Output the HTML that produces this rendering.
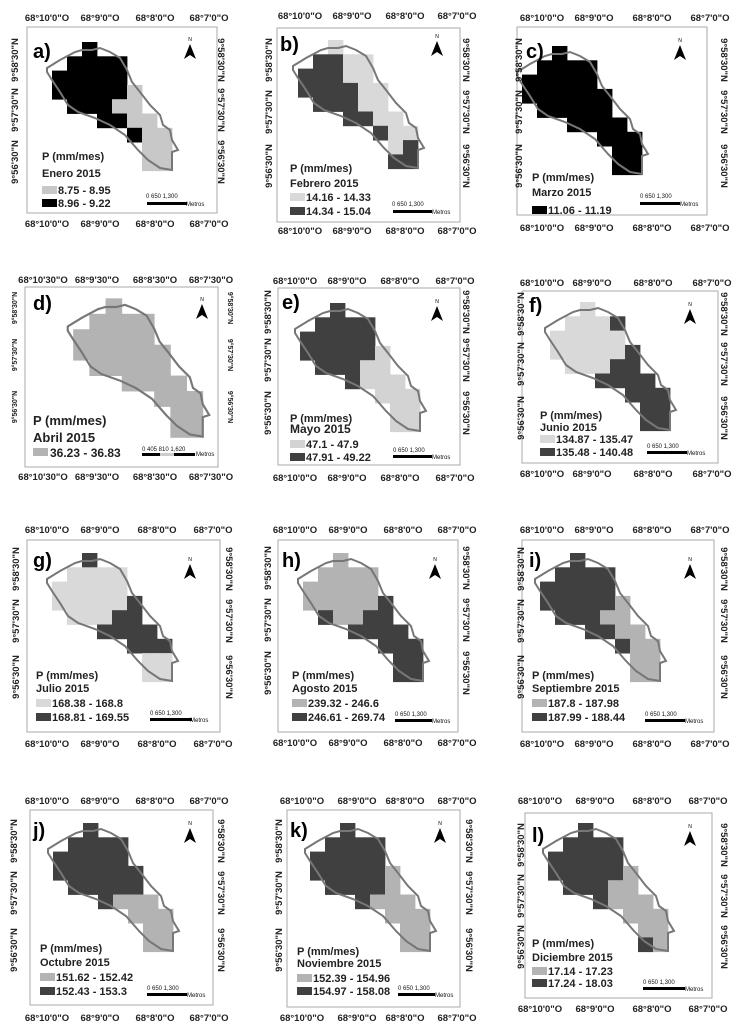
<!DOCTYPE html>
<html><head><meta charset="utf-8">
<style>
html,body{margin:0;padding:0;background:#fff;}
svg{display:block;font-family:"Liberation Sans",Arial,sans-serif;}
.t{font-size:9.5px;font-weight:bold;fill:#222;text-anchor:middle;}
.v{font-size:9.5px;font-weight:bold;fill:#222;text-anchor:middle;}
.vd{font-size:7px;font-weight:bold;fill:#222;text-anchor:middle;}
.lg{font-size:11px;font-weight:bold;fill:#222;}
.sm{font-size:6px;fill:#111;}
.fr{fill:none;stroke:#aaa;stroke-width:1;}
</style></head><body>
<svg id="s" width="745" height="1030" viewBox="0 0 745 1030" xmlns="http://www.w3.org/2000/svg">
<rect width="745" height="1030" fill="#fff"/>
<rect class="fr" x="27" y="27" width="190" height="186"/>
<rect class="fr" x="277" y="28" width="183" height="194"/>
<rect class="fr" x="517" y="27" width="190" height="188"/>
<rect class="fr" x="25" y="287" width="193" height="180"/>
<rect class="fr" x="278" y="288" width="182" height="177"/>
<rect class="fr" x="522" y="291" width="196" height="172"/>
<rect class="fr" x="27" y="540" width="193" height="192"/>
<rect class="fr" x="278" y="540" width="180" height="192"/>
<rect class="fr" x="522" y="540" width="192" height="192"/>
<rect class="fr" x="30" y="810" width="183" height="195"/>
<rect class="fr" x="287" y="810" width="173" height="197"/>
<rect class="fr" x="525" y="813" width="187" height="185"/>
<g id="maps"></g>

<text class="t" x="47" y="21">68°10'0"O</text><text class="t" x="100" y="21">68°9'0"O</text><text class="t" x="155" y="21">68°8'0"O</text><text class="t" x="209" y="21">68°7'0"O</text>
<text class="t" x="47" y="227">68°10'0"O</text><text class="t" x="100" y="227">68°9'0"O</text><text class="t" x="155" y="227">68°8'0"O</text><text class="t" x="209" y="227">68°7'0"O</text>
<text class="t" x="300" y="19">68°10'0"O</text><text class="t" x="352" y="19">68°9'0"O</text><text class="t" x="405" y="19">68°8'0"O</text><text class="t" x="457" y="19">68°7'0"O</text>
<text class="t" x="300" y="234">68°10'0"O</text><text class="t" x="352" y="234">68°9'0"O</text><text class="t" x="405" y="234">68°8'0"O</text><text class="t" x="457" y="234">68°7'0"O</text>
<text class="t" x="542" y="21">68°10'0"O</text><text class="t" x="594" y="21">68°9'0"O</text><text class="t" x="652" y="21">68°8'0"O</text><text class="t" x="710" y="21">68°7'0"O</text>
<text class="t" x="542" y="231">68°10'0"O</text><text class="t" x="594" y="231">68°9'0"O</text><text class="t" x="652" y="231">68°8'0"O</text><text class="t" x="710" y="231">68°7'0"O</text>

<text class="t" x="43" y="283">68°10'30"O</text><text class="t" x="97" y="283">68°9'30"O</text><text class="t" x="155" y="283">68°8'30"O</text><text class="t" x="211" y="283">68°7'30"O</text>
<text class="t" x="43" y="480">68°10'30"O</text><text class="t" x="97" y="480">68°9'30"O</text><text class="t" x="155" y="480">68°8'30"O</text><text class="t" x="211" y="480">68°7'30"O</text>
<text class="t" x="295" y="284">68°10'0"O</text><text class="t" x="347" y="284">68°9'0"O</text><text class="t" x="400" y="284">68°8'0"O</text><text class="t" x="455" y="284">68°7'0"O</text>
<text class="t" x="295" y="481">68°10'0"O</text><text class="t" x="347" y="481">68°9'0"O</text><text class="t" x="400" y="481">68°8'0"O</text><text class="t" x="455" y="481">68°7'0"O</text>
<text class="t" x="542" y="286">68°10'0"O</text><text class="t" x="592" y="286">68°9'0"O</text><text class="t" x="653" y="286">68°8'0"O</text><text class="t" x="712" y="286">68°7'0"O</text>
<text class="t" x="542" y="477">68°10'0"O</text><text class="t" x="592" y="477">68°9'0"O</text><text class="t" x="653" y="477">68°8'0"O</text><text class="t" x="712" y="477">68°7'0"O</text>

<text class="t" x="47" y="533">68°10'0"O</text><text class="t" x="100" y="533">68°9'0"O</text><text class="t" x="157" y="533">68°8'0"O</text><text class="t" x="213" y="533">68°7'0"O</text>
<text class="t" x="47" y="747">68°10'0"O</text><text class="t" x="100" y="747">68°9'0"O</text><text class="t" x="157" y="747">68°8'0"O</text><text class="t" x="213" y="747">68°7'0"O</text>
<text class="t" x="295" y="533">68°10'0"O</text><text class="t" x="348" y="533">68°9'0"O</text><text class="t" x="403" y="533">68°8'0"O</text><text class="t" x="457" y="533">68°7'0"O</text>
<text class="t" x="295" y="746">68°10'0"O</text><text class="t" x="348" y="746">68°9'0"O</text><text class="t" x="403" y="746">68°8'0"O</text><text class="t" x="457" y="746">68°7'0"O</text>
<text class="t" x="542" y="533">68°10'0"O</text><text class="t" x="594" y="533">68°9'0"O</text><text class="t" x="652" y="533">68°8'0"O</text><text class="t" x="710" y="533">68°7'0"O</text>
<text class="t" x="542" y="747">68°10'0"O</text><text class="t" x="594" y="747">68°9'0"O</text><text class="t" x="652" y="747">68°8'0"O</text><text class="t" x="710" y="747">68°7'0"O</text>

<text class="t" x="47" y="804">68°10'0"O</text><text class="t" x="100" y="804">68°9'0"O</text><text class="t" x="155" y="804">68°8'0"O</text><text class="t" x="209" y="804">68°7'0"O</text>
<text class="t" x="47" y="1021">68°10'0"O</text><text class="t" x="100" y="1021">68°9'0"O</text><text class="t" x="155" y="1021">68°8'0"O</text><text class="t" x="209" y="1021">68°7'0"O</text>
<text class="t" x="302" y="804">68°10'0"O</text><text class="t" x="357" y="804">68°9'0"O</text><text class="t" x="405" y="804">68°8'0"O</text><text class="t" x="457" y="804">68°7'0"O</text>
<text class="t" x="302" y="1021">68°10'0"O</text><text class="t" x="357" y="1021">68°9'0"O</text><text class="t" x="405" y="1021">68°8'0"O</text><text class="t" x="457" y="1021">68°7'0"O</text>
<text class="t" x="540" y="804">68°10'0"O</text><text class="t" x="595" y="804">68°9'0"O</text><text class="t" x="652" y="804">68°8'0"O</text><text class="t" x="708" y="804">68°7'0"O</text>
<text class="t" x="540" y="1012">68°10'0"O</text><text class="t" x="595" y="1012">68°9'0"O</text><text class="t" x="652" y="1012">68°8'0"O</text><text class="t" x="708" y="1012">68°7'0"O</text>

<text class="v" transform="translate(18,60) rotate(-90)">9°58'30"N</text>
<text class="v" transform="translate(18,110) rotate(-90)">9°57'30"N</text>
<text class="v" transform="translate(18,162) rotate(-90)">9°56'30"N</text>
<text class="v" transform="translate(218,60) rotate(90)">9°58'30"N</text>
<text class="v" transform="translate(218,110) rotate(90)">9°57'30"N</text>
<text class="v" transform="translate(218,162) rotate(90)">9°56'30"N</text>
<text class="v" transform="translate(272,60) rotate(-90)">9°58'30"N</text>
<text class="v" transform="translate(272,112) rotate(-90)">9°57'30"N</text>
<text class="v" transform="translate(272,166) rotate(-90)">9°56'30"N</text>
<text class="v" transform="translate(463,60) rotate(90)">9°58'30"N</text>
<text class="v" transform="translate(463,112) rotate(90)">9°57'30"N</text>
<text class="v" transform="translate(463,166) rotate(90)">9°56'30"N</text>
<text class="v" transform="translate(522,60) rotate(-90)">9°58'30"N</text>
<text class="v" transform="translate(522,112) rotate(-90)">9°57'30"N</text>
<text class="v" transform="translate(522,166) rotate(-90)">9°56'30"N</text>
<text class="v" transform="translate(721,60) rotate(90)">9°58'30"N</text>
<text class="v" transform="translate(721,112) rotate(90)">9°57'30"N</text>
<text class="v" transform="translate(721,166) rotate(90)">9°56'30"N</text>

<text class="vd" transform="translate(17,308) rotate(-90)">9°58'30"N</text>
<text class="vd" transform="translate(17,355) rotate(-90)">9°57'30"N</text>
<text class="vd" transform="translate(17,407) rotate(-90)">9°56'30"N</text>
<text class="vd" transform="translate(228,308) rotate(90)">9°58'30"N</text>
<text class="vd" transform="translate(228,355) rotate(90)">9°57'30"N</text>
<text class="vd" transform="translate(228,407) rotate(90)">9°56'30"N</text>
<text class="v" transform="translate(271,312) rotate(-90)">9°58'30"N</text>
<text class="v" transform="translate(271,360) rotate(-90)">9°57'30"N</text>
<text class="v" transform="translate(271,413) rotate(-90)">9°56'30"N</text>
<text class="v" transform="translate(463,312) rotate(90)">9°58'30"N</text>
<text class="v" transform="translate(463,360) rotate(90)">9°57'30"N</text>
<text class="v" transform="translate(463,413) rotate(90)">9°56'30"N</text>
<text class="v" transform="translate(524,314) rotate(-90)">9°58'30"N</text>
<text class="v" transform="translate(524,364) rotate(-90)">9°57'30"N</text>
<text class="v" transform="translate(524,418) rotate(-90)">9°56'30"N</text>
<text class="v" transform="translate(721,314) rotate(90)">9°58'30"N</text>
<text class="v" transform="translate(721,364) rotate(90)">9°57'30"N</text>
<text class="v" transform="translate(721,418) rotate(90)">9°56'30"N</text>

<text class="v" transform="translate(19,569) rotate(-90)">9°58'30"N</text>
<text class="v" transform="translate(19,621) rotate(-90)">9°57'30"N</text>
<text class="v" transform="translate(19,677) rotate(-90)">9°56'30"N</text>
<text class="v" transform="translate(226,569) rotate(90)">9°58'30"N</text>
<text class="v" transform="translate(226,621) rotate(90)">9°57'30"N</text>
<text class="v" transform="translate(226,677) rotate(90)">9°56'30"N</text>
<text class="v" transform="translate(271,568) rotate(-90)">9°58'30"N</text>
<text class="v" transform="translate(271,620) rotate(-90)">9°57'30"N</text>
<text class="v" transform="translate(271,673) rotate(-90)">9°56'30"N</text>
<text class="v" transform="translate(463,568) rotate(90)">9°58'30"N</text>
<text class="v" transform="translate(463,620) rotate(90)">9°57'30"N</text>
<text class="v" transform="translate(463,673) rotate(90)">9°56'30"N</text>
<text class="v" transform="translate(524,569) rotate(-90)">9°58'30"N</text>
<text class="v" transform="translate(524,621) rotate(-90)">9°57'30"N</text>
<text class="v" transform="translate(524,677) rotate(-90)">9°56'30"N</text>
<text class="v" transform="translate(721,569) rotate(90)">9°58'30"N</text>
<text class="v" transform="translate(721,621) rotate(90)">9°57'30"N</text>
<text class="v" transform="translate(721,677) rotate(90)">9°56'30"N</text>

<text class="v" transform="translate(17,841) rotate(-90)">9°58'30"N</text>
<text class="v" transform="translate(17,893) rotate(-90)">9°57'30"N</text>
<text class="v" transform="translate(17,950) rotate(-90)">9°56'30"N</text>
<text class="v" transform="translate(218,841) rotate(90)">9°58'30"N</text>
<text class="v" transform="translate(218,893) rotate(90)">9°57'30"N</text>
<text class="v" transform="translate(218,950) rotate(90)">9°56'30"N</text>
<text class="v" transform="translate(282,841) rotate(-90)">9°58'30"N</text>
<text class="v" transform="translate(282,893) rotate(-90)">9°57'30"N</text>
<text class="v" transform="translate(282,950) rotate(-90)">9°56'30"N</text>
<text class="v" transform="translate(466,841) rotate(90)">9°58'30"N</text>
<text class="v" transform="translate(466,893) rotate(90)">9°57'30"N</text>
<text class="v" transform="translate(466,950) rotate(90)">9°56'30"N</text>
<text class="v" transform="translate(524,845) rotate(-90)">9°58'30"N</text>
<text class="v" transform="translate(524,896) rotate(-90)">9°57'30"N</text>
<text class="v" transform="translate(524,947) rotate(-90)">9°56'30"N</text>
<text class="v" transform="translate(721,845) rotate(90)">9°58'30"N</text>
<text class="v" transform="translate(721,896) rotate(90)">9°57'30"N</text>
<text class="v" transform="translate(721,947) rotate(90)">9°56'30"N</text>

<g font-weight="bold" font-size="20" fill="#000">
<text x="33" y="58">a)</text><text x="280" y="51">b)</text><text x="526" y="58">c)</text>
<text x="33" y="310">d)</text><text x="282" y="309">e)</text><text x="529" y="312">f)</text>
<text x="33" y="567">g)</text><text x="282" y="567">h)</text><text x="529" y="567">i)</text>
<text x="33" y="837">j)</text><text x="290" y="837">k)</text><text x="532" y="842">l)</text>
</g>

<text class="lg" x="42" y="160">P (mm/mes)</text><text class="lg" x="42" y="177">Enero 2015</text>
<rect x="42" y="186" width="15" height="8" fill="#c8c8c8"/><text class="lg" x="58" y="194">8.75 - 8.95</text>
<rect x="42" y="199" width="15" height="8" fill="#000"/><text class="lg" x="58" y="207">8.96 - 9.22</text>

<text class="lg" x="290" y="172">P (mm/mes)</text><text class="lg" x="290" y="187">Febrero 2015</text>
<rect x="290" y="193" width="15" height="8" fill="#d9d9d9"/><text class="lg" x="306" y="201">14.16 - 14.33</text>
<rect x="290" y="207" width="15" height="8" fill="#404040"/><text class="lg" x="306" y="215">14.34 - 15.04</text>

<text class="lg" x="532" y="181">P (mm/mes)</text><text class="lg" x="532" y="196">Marzo 2015</text>
<rect x="532" y="206" width="15" height="8" fill="#000"/><text class="lg" x="548" y="214">11.06 - 11.19</text>

<text class="lg" style="font-size:13px" x="33" y="425">P (mm/mes)</text><text class="lg" style="font-size:13px" x="33" y="442">Abril 2015</text>
<rect x="33" y="448" width="15" height="8" fill="#b3b3b3"/><text class="lg" style="font-size:12px" x="50" y="457">36.23 - 36.83</text>

<text class="lg" x="290" y="422">P (mm/mes)</text><text class="lg" style="font-size:12px" x="290" y="433">Mayo 2015</text>
<rect x="290" y="440" width="15" height="8" fill="#d3d3d3"/><text class="lg" x="306" y="448">47.1 - 47.9</text>
<rect x="290" y="453" width="15" height="8" fill="#404040"/><text class="lg" x="306" y="461">47.91 - 49.22</text>

<text class="lg" x="540" y="419">P (mm/mes)</text><text class="lg" x="540" y="431">Junio 2015</text>
<rect x="540" y="435" width="15" height="8" fill="#d9d9d9"/><text class="lg" x="556" y="443">134.87 - 135.47</text>
<rect x="540" y="448" width="15" height="8" fill="#404040"/><text class="lg" x="556" y="456">135.48 - 140.48</text>

<text class="lg" x="36" y="679">P (mm/mes)</text><text class="lg" x="36" y="692">Julio 2015</text>
<rect x="36" y="699" width="15" height="8" fill="#d9d9d9"/><text class="lg" x="52" y="707">168.38 - 168.8</text>
<rect x="36" y="713" width="15" height="8" fill="#404040"/><text class="lg" x="52" y="721">168.81 - 169.55</text>

<text class="lg" x="292" y="679">P (mm/mes)</text><text class="lg" x="292" y="692">Agosto 2015</text>
<rect x="292" y="699" width="15" height="8" fill="#b3b3b3"/><text class="lg" x="308" y="707">239.32 - 246.6</text>
<rect x="292" y="713" width="15" height="8" fill="#404040"/><text class="lg" x="308" y="721">246.61 - 269.74</text>

<text class="lg" x="532" y="679">P (mm/mes)</text><text class="lg" x="532" y="692">Septiembre 2015</text>
<rect x="532" y="699" width="15" height="8" fill="#b3b3b3"/><text class="lg" x="548" y="707">187.8 - 187.98</text>
<rect x="532" y="713" width="15" height="8" fill="#404040"/><text class="lg" x="548" y="721">187.99 - 188.44</text>

<text class="lg" x="40" y="952">P (mm/mes)</text><text class="lg" x="40" y="966">Octubre 2015</text>
<rect x="40" y="973" width="15" height="8" fill="#b3b3b3"/><text class="lg" x="56" y="981">151.62 - 152.42</text>
<rect x="40" y="987" width="15" height="8" fill="#404040"/><text class="lg" x="56" y="995">152.43 - 153.3</text>

<text class="lg" x="297" y="955">P (mm/mes)</text><text class="lg" x="297" y="967">Noviembre 2015</text>
<rect x="297" y="974" width="15" height="8" fill="#b3b3b3"/><text class="lg" x="313" y="982">152.39 - 154.96</text>
<rect x="297" y="987" width="15" height="8" fill="#404040"/><text class="lg" x="313" y="995">154.97 - 158.08</text>

<text class="lg" x="532" y="947">P (mm/mes)</text><text class="lg" x="532" y="961">Diciembre 2015</text>
<rect x="532" y="967" width="15" height="8" fill="#b3b3b3"/><text class="lg" x="548" y="975">17.14 - 17.23</text>
<rect x="532" y="979" width="15" height="8" fill="#404040"/><text class="lg" x="548" y="987">17.24 - 18.03</text>

<text class="sm" x="146" y="198">0   650  1,300</text><text class="sm" x="186" y="206">Metros</text>
<text class="sm" x="392" y="206">0   650  1,300</text><text class="sm" x="432" y="214">Metros</text>
<text class="sm" x="640" y="198">0   650  1,300</text><text class="sm" x="680" y="206">Metros</text>
<text class="sm" x="142" y="451">0  405 810        1,620</text><text class="sm" x="196" y="456">Metros</text>
<text class="sm" x="393" y="452">0   650  1,300</text><text class="sm" x="432" y="459">Metros</text>
<text class="sm" x="647" y="448">0   650  1,300</text><text class="sm" x="687" y="455">Metros</text>
<text class="sm" x="150" y="715">0   650  1,300</text><text class="sm" x="190" y="722">Metros</text>
<text class="sm" x="395" y="716">0   650  1,300</text><text class="sm" x="432" y="723">Metros</text>
<text class="sm" x="645" y="716">0   650  1,300</text><text class="sm" x="685" y="723">Metros</text>
<text class="sm" x="147" y="990">0   650  1,300</text><text class="sm" x="187" y="997">Metros</text>
<text class="sm" x="398" y="990">0   650  1,300</text><text class="sm" x="435" y="997">Metros</text>
<text class="sm" x="643" y="984">0   650  1,300</text><text class="sm" x="685" y="991">Metros</text>
<g fill="#000">
<rect x="147" y="202" width="40" height="3"/><rect x="393" y="210" width="39" height="3"/><rect x="640" y="202" width="40" height="3"/>
<rect x="142" y="453" width="18" height="3"/><rect x="160" y="453" width="14" height="3" fill="#ccc"/><rect x="174" y="453" width="21" height="3"/>
<rect x="393" y="455" width="39" height="3"/><rect x="647" y="451" width="40" height="3"/>
<rect x="150" y="718" width="42" height="3"/><rect x="395" y="719" width="37" height="3"/><rect x="645" y="719" width="40" height="3"/>
<rect x="147" y="993" width="40" height="3"/><rect x="398" y="993" width="37" height="3"/><rect x="643" y="987" width="42" height="3"/>
</g>
<g id="na"></g>
<g font-size="5" fill="#000" text-anchor="middle">
<text x="190" y="41">N</text><text x="437" y="38">N</text><text x="680" y="42">N</text>
<text x="202" y="301">N</text><text x="437" y="303">N</text><text x="690" y="306">N</text>
<text x="190" y="561">N</text><text x="435" y="561">N</text><text x="690" y="561">N</text>
<text x="190" y="825">N</text><text x="440" y="825">N</text><text x="690" y="828">N</text>
</g>
</svg>
<script>
(function(){
var NS="http://www.w3.org/2000/svg";
var maps=document.getElementById("maps"), na=document.getElementById("na");
var rows=[[2,2],[1,4],[0,4],[0,5],[1,5],[3,6],[5,7],[6,7],[6,7]];
var outline=[[47,68],[60,60],[75,52],[82,50],[92,50],[100,48],[110,52],[120,58],[127,70],[132,82],[140,92],[150,105],[160,115],[163,125],[170,130],[172,140],[178,150],[172,152],[172,170],[160,168],[148,160],[138,150],[125,135],[110,125],[95,118],[78,112],[68,105],[60,92],[52,80],[47,72]];
var D="#404040",L="#d9d9d9",M="#b3b3b3";
function aP(r,c){return r<=2||(r==3&&c<=4)||(r==4&&c<=3)||(r==5&&c<=4)||(r==6&&c==5);}
var P=[
 ["translate(0,0)",function(r,c){return aP(r,c)?"#000":"#c8c8c8";}],
 ["translate(246,-2)",function(r,c){return ((r>=1&&r<=2&&c<=2)||((r==3||r==4)&&c<=3)||(r==5&&c<=4)||(r==6&&c==5)||(r==7&&c==7)||r==8)?D:L;}],
 ["translate(470,4)",function(){return "#000";}],
 ["translate(17,253) scale(1.08)",function(){return M;}],
 ["translate(248,261)",function(r,c){return (r<=2||(r==3&&c<=4)||(r==4&&c<=3)||(r==5&&c==3))?D:"#d3d3d3";}],
 ["translate(498,260)",function(r,c){return ((r==1&&c==4)||(r==3&&c==5)||(r==4&&c>=4)||r>=5)?D:L;}],
 ["translate(0,511)",function(r,c){return (r==0||(r==3&&c==5)||(r==4&&c>=4)||r==5||r==6)?D:L;}],
 ["translate(251,511)",function(r,c){return ((r==3&&c==5)||(r==4&&(c==1||c>=4))||r>=5)?D:M;}],
 ["translate(488,511)",function(r,c){return aP(r,c)?D:M;}],
 ["translate(1,781)",function(r,c){return (r<=4||(r==5&&c==3))?D:M;}],
 ["translate(258,781)",function(r,c){return ((r<=4&&c<=4)||(r==5&&c==3))?D:M;}],
 ["translate(496,781)",function(r,c){return (r<=2||(r==3&&c<=4)||(r==4&&c<=3)||(r==5&&c==3)||(r==8&&c==6))?D:M;}]
];
P.forEach(function(p){
 var g=document.createElementNS(NS,"g");
 g.setAttribute("transform",p[0]);
 rows.forEach(function(rr,r){
  for(var c=rr[0];c<=rr[1];c++){
   var e=document.createElementNS(NS,"rect");
   e.setAttribute("x",52+15*c);e.setAttribute("y",(42+14.3*r).toFixed(1));
   e.setAttribute("width",15.4);e.setAttribute("height",14.7);
   e.setAttribute("fill",p[1](r,c));g.appendChild(e);
  }
 });
 var pl=document.createElementNS(NS,"polygon");
 pl.setAttribute("points",outline.map(function(q){return q.join(",");}).join(" "));
 pl.setAttribute("fill","none");pl.setAttribute("stroke","#777");pl.setAttribute("stroke-width","2");
 g.appendChild(pl);maps.appendChild(g);
});
[[190,44],[437,41],[680,45],[202,304],[437,306],[690,309],[190,564],[435,564],[690,564],[190,828],[440,828],[690,831]].forEach(function(a){
 var e=document.createElementNS(NS,"polygon");var x=a[0],y=a[1];
 e.setAttribute("points",x+","+y+" "+(x+6)+","+(y+15)+" "+x+","+(y+11)+" "+(x-6)+","+(y+15));
 e.setAttribute("fill","#000");na.appendChild(e);
});
})();
</script>
</body></html>
